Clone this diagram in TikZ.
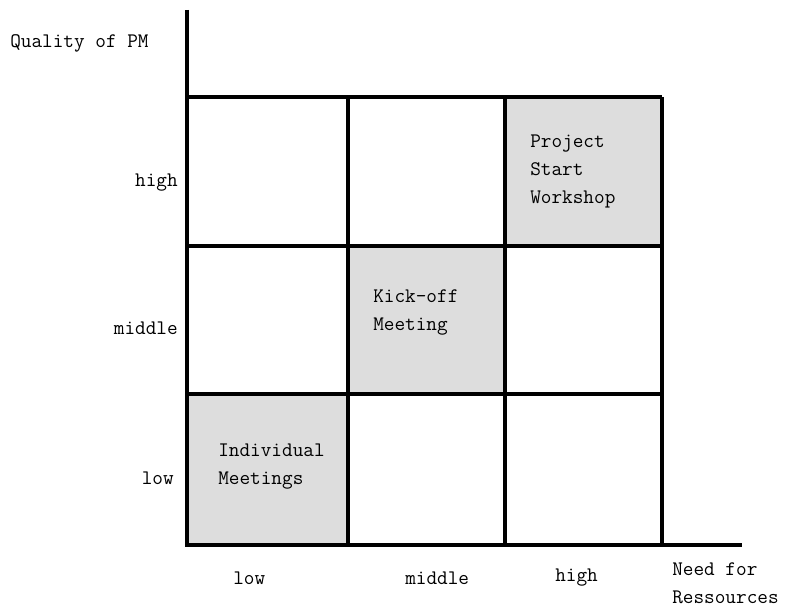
\documentclass[tikz,border=0pt]{standalone}
\usepackage{fontspec}
\definecolor{cellgray}{HTML}{DDDDDD}

\begin{document}
\begin{tikzpicture}[x=0.75pt,y=-0.75pt,
  thick line/.style={line width=3pt},
  lbl/.style={font=\ttfamily\fontsize{15.5}{21}\selectfont, inner sep=0pt},
  celltext/.style={lbl, align=left, anchor=west}]
\useasboundingbox (0,0) rectangle (798,610);

% shaded cells
\fill[cellgray] (187,394) rectangle (348,545);
\fill[cellgray] (348,246) rectangle (505,394);
\fill[cellgray] (505,97) rectangle (662,246);

% grid
\foreach \x in {348,505,662}
  \draw[thick line] (\x,97) -- (\x,545);
\foreach \y in {97,246,394}
  \draw[thick line] (187,\y) -- (662,\y);

% axes
\draw[thick line] (187,10) -- (187,545) -- (742,545);

% axis titles
\node[lbl, anchor=west] (quality) at (10,43) {Quality of PM};
\node[lbl, anchor=north west, align=left] (need) at (672,562) {Need for\\Ressources};

% row labels
\node[lbl, anchor=east] (rowhigh) at (178,183) {high};
\node[lbl, anchor=east] (rowmid) at (178,328) {middle};
\node[lbl, anchor=east] (rowlow) at (174,478) {low};

% column labels
\node[lbl, anchor=west] (collow) at (233,578) {low};
\node[lbl, anchor=west] (colmid) at (405,578) {middle};
\node[lbl, anchor=west] (colhigh) at (555,578) {high};

% cell texts
\node[celltext] (pstart) at (530,171) {Project\\Start\\Workshop};
\node[celltext] (kickoff) at (373,312) {Kick-off\\Meeting};
\node[celltext] (indiv) at (218,467) {Individual\\Meetings};
\end{tikzpicture}
\end{document}
